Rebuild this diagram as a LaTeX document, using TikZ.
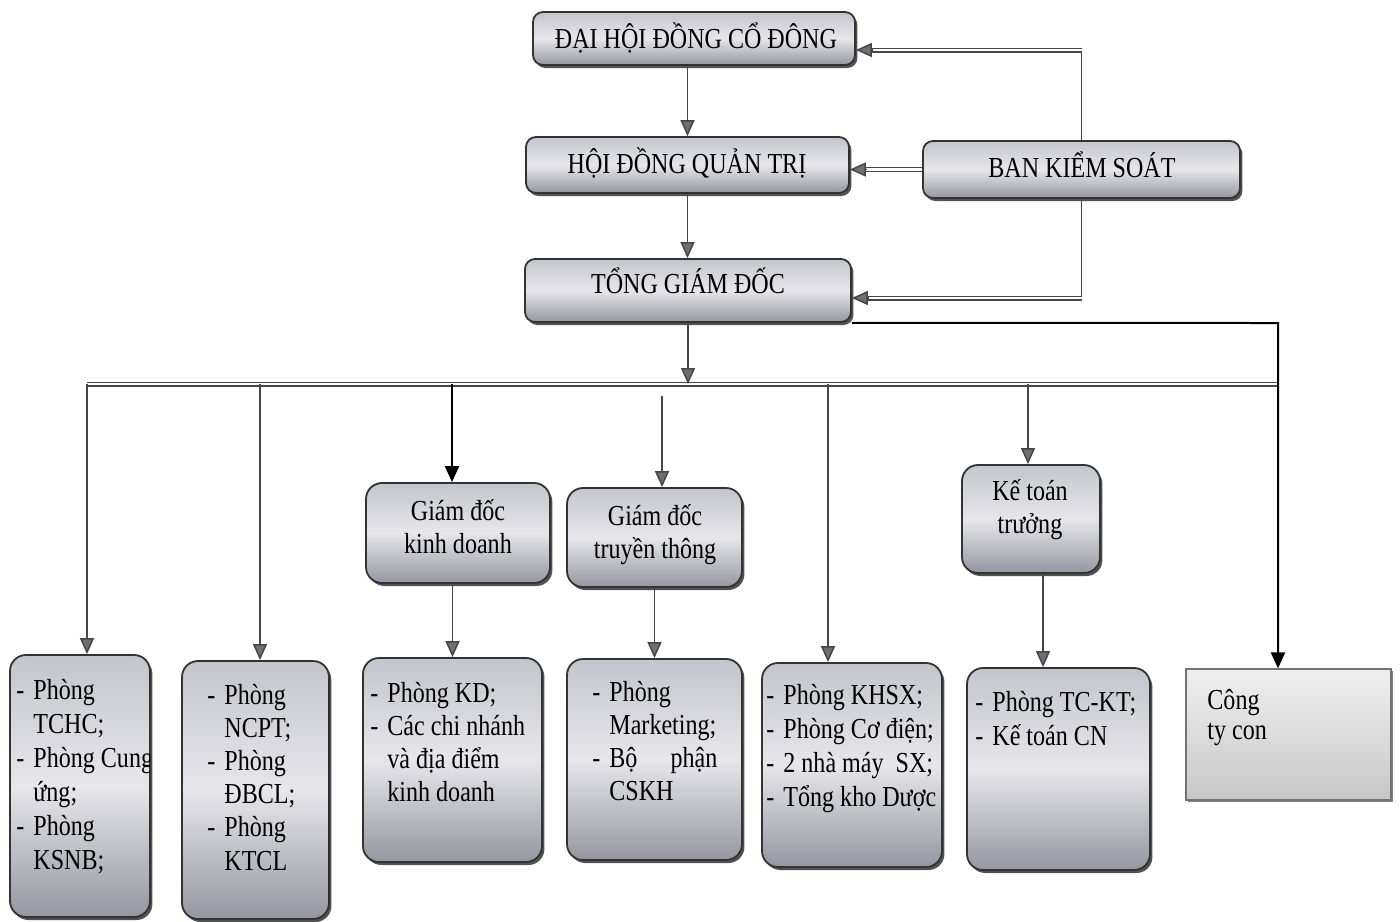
\documentclass[tikz,border=0pt]{standalone}
\usepackage{fontspec}
\setmainfont[FakeStretch=0.83]{Liberation Serif}
\usetikzlibrary{arrows.meta,shadows,calc}
\definecolor{gtop}{RGB}{196,196,204}
\definecolor{gmid}{RGB}{230,230,235}
\definecolor{gbot}{RGB}{150,150,160}
\definecolor{lnc}{RGB}{70,70,74}
\definecolor{tipc}{RGB}{110,112,116}
\newcommand{\dsh}{\makebox[8.5pt][l]{-}}
\newcommand{\ind}{\hspace*{8.5pt}}
\newcommand{\bodyfont}[1]{\fontsize{14.5}{#1}\selectfont}
\tikzset{
  x=0.5pt, y=-0.5pt,
  box/.style={draw=black!80, line width=0.9pt, rounded corners=8pt,
    top color=gtop, bottom color=gbot, middle color=gmid,
    drop shadow={shadow xshift=1.2pt, shadow yshift=-1.5pt, fill=black!75, opacity=0.9},
    inner sep=0pt},
  tbox/.style={box, rounded corners=5pt},
  sqbox/.style={draw=black!55, line width=0.6pt, top color=black!6, bottom color=black!22,
    drop shadow={shadow xshift=0.8pt, shadow yshift=-1.2pt, fill=black!60, opacity=0.8},
    inner sep=0pt},
  tx/.style={inner sep=0pt, font=\bodyfont{17}},
  ln/.style={draw=lnc, line width=0.75pt},
  arr/.style={ln, -{Triangle[width=7pt,length=8pt,fill=tipc]}},
  arrk/.style={draw=black, line width=1pt, -{Triangle[width=7pt,length=8pt,fill=black]}},
  dbl/.style={draw=lnc, line width=0.55pt, double=white, double distance=1.4pt},
}
\begin{document}
\begin{tikzpicture}
\useasboundingbox[fill=white] (0,0) rectangle (1400,921);

% top boxes
\node[tbox, minimum width=161pt, minimum height=26.5pt] (dh) at (694,38.5) {};
\node[tbox, minimum width=161.5pt, minimum height=28pt] (hd) at (687.5,165) {};
\node[tbox, minimum width=158.5pt, minimum height=28.5pt] (bks) at (1081.5,169.5) {};
\node[tbox, minimum width=163pt, minimum height=31.5pt] (tgd) at (688,290.5) {};

\node[tx, anchor=base] (tdh) at (696,48) {ĐẠI HỘI ĐỒNG CỔ ĐÔNG};
\node[tx, anchor=base] (thd) at (687,173) {HỘI ĐỒNG QUẢN TRỊ};
\node[tx, anchor=base] (tbks) at (1082,177) {BAN KIỂM SOÁT};
\node[tx, anchor=base] (ttgd) at (688,293) {TỔNG GIÁM ĐỐC};

% middle boxes
\node[box, minimum width=92pt, minimum height=50pt] (gdkd) at (458,533) {};
\node[box, minimum width=87.5pt, minimum height=49.5pt] (gdtt) at (654.5,537.5) {};
\node[box, minimum width=69pt, minimum height=54pt] (ktt) at (1031,519) {};

\node[tx, anchor=base] (tgdkd) at (458,520) {\parbox[t]{90pt}{\centering\bodyfont{16.5}Giám đốc\\kinh doanh}};
\node[tx, anchor=base] (tgdtt) at (655,525) {\parbox[t]{86pt}{\centering\bodyfont{16.5}Giám đốc\\truyền thông}};
\node[tx, anchor=base] (tktt) at (1030,500) {\parbox[t]{68pt}{\centering\bodyfont{16.5}Kế toán\\trưởng}};

% bottom boxes
\node[box, minimum width=70pt, minimum height=131pt] (b1) at (80,786) {};
\node[box, minimum width=73.5pt, minimum height=129pt] (b2) at (255.5,790) {};
\node[box, minimum width=89.5pt, minimum height=102pt] (b3) at (452.5,760) {};
\node[box, minimum width=87.5pt, minimum height=100.5pt] (b4) at (654.5,759.5) {};
\node[box, minimum width=90pt, minimum height=102pt] (b5) at (852,765) {};
\node[box, minimum width=91.5pt, minimum height=101pt] (b6) at (1058.5,769) {};
\node[sqbox, minimum width=102.5pt, minimum height=65.5pt] (b7) at (1288.5,734.5) {};

\begin{scope}
\clip (b1.north west) rectangle ([xshift=-0.6pt]b1.south east);
\node[tx, anchor=base west] (tb1) at (16,699) {\parbox[t]{90pt}{\raggedright\bodyfont{17}\dsh Phòng\\\ind TCHC;\\\dsh Phòng Cung\\\ind ứng;\\\dsh Phòng\\\ind KSNB;}};
\end{scope}
\node[tx, anchor=base west] (tb2) at (207,704) {\parbox[t]{70pt}{\raggedright\bodyfont{16.6}\dsh Phòng\\\ind NCPT;\\\dsh Phòng\\\ind ĐBCL;\\\dsh Phòng\\\ind KTCL}};
\node[tx, anchor=base west] (tb3) at (370,702) {\parbox[t]{86pt}{\raggedright\bodyfont{16.5}\dsh Phòng KD;\\\dsh Các chi nhánh\\\ind và địa điểm\\\ind kinh doanh}};
\node[tx, anchor=base west] (tb4) at (592,701) {\parbox[t]{80pt}{\raggedright\bodyfont{16.5}\dsh Phòng\\\ind Marketing;\\\dsh\makebox[54pt][s]{Bộ\hfill phận}\\\ind CSKH}};
\node[tx, anchor=base west] (tb5) at (766,704) {\parbox[t]{90pt}{\raggedright\bodyfont{17}\dsh Phòng KHSX;\\\dsh Phòng Cơ điện;\\\dsh 2 nhà máy\ \ SX;\\\dsh Tổng kho Dược}};
\node[tx, anchor=base west] (tb6) at (975,711) {\parbox[t]{90pt}{\raggedright\bodyfont{17}\dsh Phòng TC-KT;\\\dsh Kế toán CN}};
\node[tx, anchor=base west] (tb7) at (1207,709) {\parbox[t]{80pt}{\raggedright\bodyfont{15}Công\\ty con}};

% top connectors
\draw[arr] (dh.south -| hd.north) -- (hd.north);
\draw[arr] (hd.south) -- (hd.south |- tgd.north);

\coordinate (k0) at ($(bks.west -| hd.east)+(14,0)$);
\draw[dbl] (bks.west) -- (k0);
\draw[arr] ($(bks.west -| hd.east)+(16,0)$) -- (bks.west -| hd.east);

\coordinate (k1) at (bks.north |- 0,50);
\draw[ln] (bks.north) -- (k1);
\draw[dbl] (k1) -- ($(k1 -| dh.east)+(14,0)$);
\draw[arr] ($(k1 -| dh.east)+(16,0)$) -- (k1 -| dh.east);

\coordinate (k2) at (bks.south |- 0,298);
\draw[ln] (bks.south) -- (k2);
\draw[dbl] (k2) -- ($(k2 -| tgd.east)+(14,0)$);
\draw[arr] ($(k2 -| tgd.east)+(16,0)$) -- (k2 -| tgd.east);

% bus
\coordinate (bl) at (87,384);
\coordinate (br) at (1278,384);
\draw[dbl] (bl) -- (br);
\draw[arr] (tgd.south) -- (tgd.south |- bl);

\coordinate (k3) at (1278,323);
\draw[arrk] (tgd.south east) -- (k3) -- (k3 |- b7.north);

% drops
\draw[arr] (bl) -- (bl |- b1.north);
\coordinate (d2) at (260,384);
\draw[arr] (d2) -- (d2 |- b2.north);
\coordinate (d3) at (452,384);
\draw[arrk] (d3) -- (d3 |- gdkd.north);
\coordinate (d4) at (662,396);
\draw[arr] (d4) -- (d4 |- gdtt.north);
\coordinate (d5) at (828,384);
\draw[arr] (d5) -- (d5 |- b5.north);
\coordinate (d6) at (1028,384);
\draw[arr] (d6) -- (d6 |- ktt.north);

% second level
\draw[arr] (gdkd.south -| b3.north) -- (b3.north);
\draw[arr] (gdtt.south) -- (b4.north);
\coordinate (d7) at (1043,600);
\draw[arr] (ktt.south -| d7) -- (d7 |- b6.north);
\end{tikzpicture}
\end{document}
